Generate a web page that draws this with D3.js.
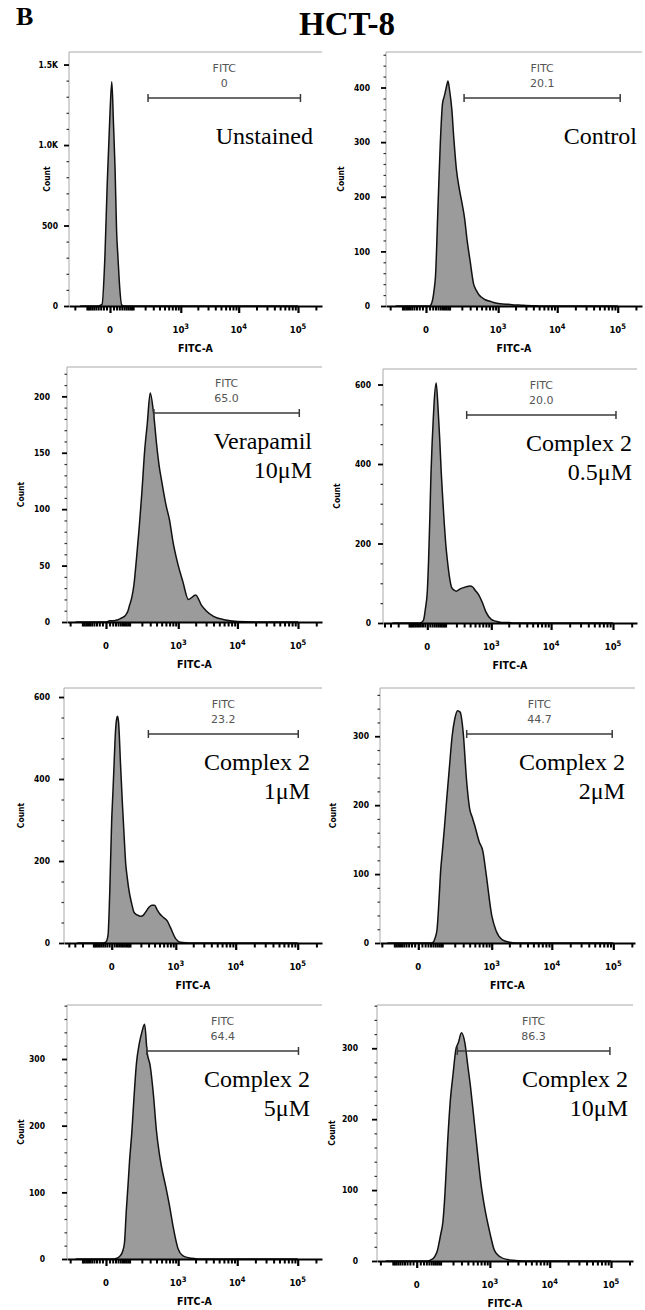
<!DOCTYPE html>
<html>
<head>
<meta charset="utf-8">
<script src="https://cdn.jsdelivr.net/npm/d3@7"></script>
<style>
  body { margin: 0; background: #fff; }
</style>
</head>
<body>
<div id="dataviz"></div>
<script>
// FITC-A channel values of the histogram bins (shared by every panel)
var fitcBins = [-270,-150,-80,-40,-25,-15,-8,0,5,10,15,20,25,30,40,50,60,70,80,90,100,115,130,150,175,200,
  230,260,300,350,400,450,500,600,700,800,1000,1200,1500,2000,2500,3000,4000,6000,10000,30000,100000,262000];

// counts
var countsUnstained = [0,0,0,0,10,310,750,1200,1393,1130,850,470,300,150,5,0,0,0,0,0,0,0,0,0,0,
  0,0,0,0,0,0,0,0,0,0,0,0,0,0,0,0,0,0,0,0,0,0,0];
var countsControl = [0,0,0,0,0,0,0,0,0,0,3,12,30,55,185,300,370,385,400,412,395,360,305,250,215,
  190,160,120,82,41,28,20,16,11,9,7,4.5,3.5,3,2,1.5,1,0.5,0,0,0,0,0];
var countsVerapamil = [0,0,0,0,0,0,0,0,0.5,1,1,1,1,1.5,2,3,4,5,7,10,15,22,33,56,85,
  115,152,175,203,185,158,138,125,104,90,72,50,36,20,24,15,10,5,2,0.5,0,0,0];
var countsC2_05 = [0,0,0,0,1.5,8,34,80,158,261,375,450,508,558,604,544,464,376,310,251,203,154,118,90,82.5,
  80,84,87,89.5,92,93,90.5,83,69,49,28,9,4.5,1.4,1,0,0,0,0,0,0,0,0];
var countsC2_1 = [0,0,0,0,2,19,118,300,371,444,511,544,553,537,434,340,262,193,160,133,114,93,76,70,67,
  65,68,76,86,92,92,81,72,62,54,38,10,2,0.5,0,0,0,0,0,0,0,0,0];
var countsC2_2 = [0,0,0,0,0,0,0,0,0,0,0,0,0,0,0,1,7,20,60,105,132,170,208,252,300,
  325,337,335,305,235,195,182,170,147,133,100,40,17,5,1,0,0,0,0,0,0,0,0];
var countsC2_5 = [0,0,0,0,0,0,0,0,0,0,0,0,0,0.5,2,5,11,24,72,110,148,190,240,293,323,
  340,352,310,290,245,192,160,138,108,80,52,15,5,2,0.5,0,0,0,0,0,0,0,0];
var countsC2_10 = [0,0,0,0,0,0,0,0,0,0,0,0,0,0,0.5,2,4,8,14,25,37,55,95,165,228,
  263,298,308,322,308,275,245,213,155,108,78,40,15,6,2,1,0.5,0,0,0,0,0,0];

var allCounts = [countsUnstained, countsControl, countsVerapamil, countsC2_05,
  countsC2_1, countsC2_2, countsC2_5, countsC2_10];

var sampleNames = [["Unstained"], ["Control"], ["Verapamil", "10\u03bcM"], ["Complex 2", "0.5\u03bcM"],
  ["Complex 2", "1\u03bcM"], ["Complex 2", "2\u03bcM"], ["Complex 2", "5\u03bcM"], ["Complex 2", "10\u03bcM"]];
var gatePercent = ["0", "20.1", "65.0", "20.0", "23.2", "44.7", "64.4", "86.3"];
var gateStart = [232, 224, 356, 340, 297, 351, 256, 247];
var gateEnd = [110000, 110000, 105000, 111700, 102000, 96000, 103000, 96000];

var yMax = [1578, 465, 226, 639, 622, 370, 381, 361];
var yMajor = [500, 100, 50, 200, 200, 100, 100, 100];
var yMinor = [100, 20, 10, 50, 50, 20, 20, 20];

var xTickValues = [0, 1000, 10000, 100000];
var xTickBase = ["0", "10", "10", "10"];
var xTickSup = ["", "3", "4", "5"];

// panel boxes in the page (layout only)
var panels = [
  {L: 69,  T: 52,   R: 322, B: 306,  x0: 110,   x5: 298,   c: 69,  cx: 47,  yPad: 6,  tx: 313},
  {L: 386, T: 52,   R: 642, B: 306,  x0: 426,   x5: 617.7, c: 69,  cx: 341, yPad: 11, tx: 637},
  {L: 67,  T: 367,  R: 322, B: 622,  x0: 106,   x5: 298,   c: 69,  cx: 21,  yPad: 12, tx: 312},
  {L: 383, T: 369,  R: 637, B: 623,  x0: 427.3, x5: 613,   c: 103, cx: 337, yPad: 7,  tx: 632},
  {L: 64,  T: 688,  R: 322, B: 943,  x0: 111.7, x5: 297.7, c: 103, cx: 21,  yPad: 9,  tx: 310},
  {L: 380, T: 688,  R: 635, B: 943,  x0: 418.3, x5: 613.3, c: 69,  cx: 333, yPad: 6,  tx: 625},
  {L: 67,  T: 1005, R: 322, B: 1259, x0: 106,   x5: 297.7, c: 69,  cx: 21,  yPad: 17, tx: 310},
  {L: 377, T: 1005, R: 633, B: 1261, x0: 416.7, x5: 611,   c: 69,  cx: 332, yPad: 14, tx: 628}
];

var axisFont = "'DejaVu Sans Condensed', 'DejaVu Sans', sans-serif";
var serif = "'Liberation Serif', 'Times New Roman', serif";

var svg = d3.select("#dataviz")
  .append("svg")
    .attr("width", 645)
    .attr("height", 1310);

svg.append("text")
  .attr("x", 16).attr("y", 25)
  .attr("font-family", serif).attr("font-weight", "bold").attr("font-size", 26)
  .text("B");
svg.append("text")
  .attr("x", 347).attr("y", 35)
  .attr("text-anchor", "middle")
  .attr("font-family", serif).attr("font-weight", "bold").attr("font-size", 33)
  .text("HCT-8");

// minor x tick values for a biexponential-like axis
var xMinor = [];
[1, 2, 3, 4, 5].forEach(function(n) {
  d3.range(1, 10).forEach(function(k) {
    var v = k * Math.pow(10, n);
    xMinor.push(v, -v);
  });
});

panels.forEach(function(p, i) {
  var g = svg.append("g");

  var x = d3.scaleSymlog().constant(p.c).domain([0, 100000]).range([p.x0, p.x5]);
  x.domain([x.invert(p.L), x.invert(p.R)]).range([p.L, p.R]);
  var y = d3.scaleLinear().domain([0, yMax[i]]).range([p.B, p.T]);
  var dom = x.domain();

  // frame
  g.append("line").attr("x1", p.L).attr("x2", p.R).attr("y1", p.T).attr("y2", p.T)
    .attr("stroke", "#a8a8a8").attr("stroke-width", 1);
  g.append("line").attr("x1", p.L).attr("x2", p.L).attr("y1", p.T).attr("y2", p.B)
    .attr("stroke", "#a8a8a8").attr("stroke-width", 1);

  // histogram
  var pts = fitcBins.map(function(v, j) { return [v, allCounts[i][j]]; })
    .filter(function(d) { return d[0] >= dom[0] && d[0] <= dom[1]; });

  g.append("path")
    .datum(pts)
    .attr("fill", "#9b9b9b")
    .attr("d", d3.area()
      .curve(d3.curveMonotoneX)
      .x(function(d) { return x(d[0]); })
      .y0(p.B)
      .y1(function(d) { return y(d[1]); }));
  g.append("path")
    .datum(pts)
    .attr("fill", "none")
    .attr("stroke", "#111")
    .attr("stroke-width", 1.5)
    .attr("d", d3.line()
      .curve(d3.curveMonotoneX)
      .x(function(d) { return x(d[0]); })
      .y(function(d) { return y(d[1]); }));

  // y axis
  var majors = d3.range(0, yMax[i] + 1, yMajor[i]);
  var minors = d3.range(0, yMax[i], yMinor[i]).filter(function(v) { return v % yMajor[i] !== 0; });
  g.append("g")
    .attr("transform", "translate(" + p.L + ",0)")
    .call(d3.axisLeft(y).tickValues(minors).tickSize(2.5).tickFormat(""))
    .call(function(a) { a.select(".domain").remove(); })
    .selectAll("line").attr("stroke", "#333").attr("stroke-width", 1.2);
  var ya = g.append("g")
    .attr("transform", "translate(" + p.L + ",0)")
    .call(d3.axisLeft(y).tickValues(majors).tickSize(5).tickPadding(p.yPad)
      .tickFormat(function(d) { return d >= 1000 ? (d / 1000).toFixed(1) + "K" : d; }))
    .call(function(a) { a.select(".domain").remove(); });
  ya.selectAll("line").attr("stroke-width", 1.8);
  ya.attr("font-family", axisFont).attr("font-size", 8.5).attr("font-weight", "bold");

  g.append("text")
    .attr("transform", "translate(" + p.cx + "," + ((p.T + p.B) / 2) + ") rotate(-90)")
    .attr("text-anchor", "middle")
    .attr("dominant-baseline", "central")
    .attr("font-family", axisFont).attr("font-size", 8.5).attr("font-weight", "bold")
    .text("Count");

  // x axis
  var minorIn = xMinor.filter(function(v) { return v > dom[0] && v < dom[1] && xTickValues.indexOf(v) < 0; });
  var xm = g.append("g")
    .attr("transform", "translate(0," + p.B + ")")
    .call(d3.axisBottom(x).tickValues(minorIn).tickSize(4.5).tickSizeOuter(0).tickFormat(""));
  xm.selectAll("line").attr("stroke-width", 2);
  xm.select(".domain").attr("stroke-width", 1.8);
  var xM = g.append("g")
    .attr("transform", "translate(0," + p.B + ")")
    .call(d3.axisBottom(x).tickValues(xTickValues).tickSize(7).tickSizeOuter(0).tickFormat(""));
  xM.selectAll("line").attr("stroke-width", 2.2);
  xM.select(".domain").remove();

  xTickValues.forEach(function(v, k) {
    var t = g.append("text")
      .attr("x", x(v)).attr("y", p.B + 27)
      .attr("text-anchor", "middle")
      .attr("font-family", axisFont).attr("font-size", 9.5).attr("font-weight", "bold")
      .text(xTickBase[k]);
    if (xTickSup[k]) {
      t.append("tspan").attr("dy", -4).attr("font-size", 7.5).text(xTickSup[k]);
    }
  });

  g.append("text")
    .attr("x", (p.L + p.R) / 2).attr("y", p.B + 46)
    .attr("text-anchor", "middle")
    .attr("font-family", axisFont).attr("font-size", 10.5).attr("font-weight", "bold")
    .text("FITC-A");

  // gate
  var gx1 = x(gateStart[i]), gx2 = x(gateEnd[i]), gy = p.T + 46;
  g.append("line").attr("x1", gx1).attr("x2", gx2).attr("y1", gy).attr("y2", gy)
    .attr("stroke", "#3a3a3a").attr("stroke-width", 1.5);
  [gx1, gx2].forEach(function(gx) {
    g.append("line").attr("x1", gx).attr("x2", gx).attr("y1", gy - 4).attr("y2", gy + 4)
      .attr("stroke", "#3a3a3a").attr("stroke-width", 1.5);
  });
  g.append("text")
    .attr("x", (gx1 + gx2) / 2).attr("y", p.T + 16)
    .attr("text-anchor", "middle").attr("dominant-baseline", "central")
    .attr("font-family", "'DejaVu Sans', sans-serif").attr("font-size", 11).attr("fill", "#555")
    .text("FITC");
  g.append("text")
    .attr("x", (gx1 + gx2) / 2).attr("y", p.T + 31)
    .attr("text-anchor", "middle").attr("dominant-baseline", "central")
    .attr("font-family", "'DejaVu Sans', sans-serif").attr("font-size", 11).attr("fill", "#555")
    .text(gatePercent[i]);

  // sample label
  var lines = sampleNames[i];
  lines.forEach(function(s, k) {
    g.append("text")
      .attr("x", p.tx)
      .attr("y", lines.length === 1 ? p.T + 92 : p.T + 82 + k * 29)
      .attr("text-anchor", "end")
      .attr("font-family", serif).attr("font-size", 24)
      .text(s);
  });
});
</script>
</body>
</html>
